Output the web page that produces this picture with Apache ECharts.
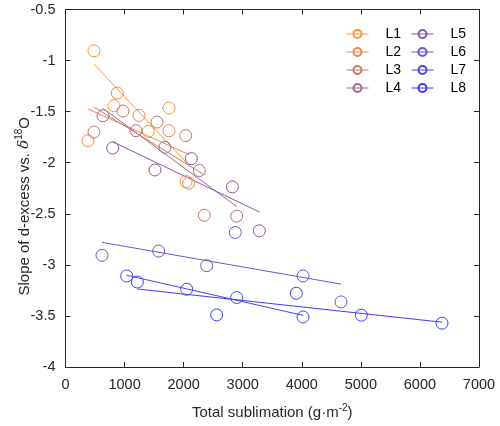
<!DOCTYPE html>
<html>
<head>
<meta charset="utf-8">
<script src="https://cdn.jsdelivr.net/npm/echarts@6/dist/echarts.min.js"></script>
<style>
html,body{margin:0;padding:0;background:#fff;}
#chart{width:500px;height:426px;}
</style>
</head>
<body>
<div id="chart"></div>
<script>
// ---- data ----
const names = ['L1','L2','L3','L4','L5','L6','L7','L8'];
const L1x = [482, 821, 1402, 1752, 2040];
const L1y = [-0.905, -1.442, -1.693, -1.465, -2.185];
const L2x = [381, 877, 1244, 1752, 2085];
const L2y = [-1.784, -1.318, -1.537, -1.687, -2.201];
const L3x = [482, 973, 1549, 2035, 2350];
const L3y = [-1.700, -1.494, -1.602, -1.735, -2.514];
const L4x = [635, 1193, 1684, 2265, 2898];
const L4y = [-1.540, -1.687, -1.849, -2.077, -2.523];
const L5x = [799, 1515, 2130, 2824, 3281];
const L5y = [-1.856, -2.071, -1.960, -2.237, -2.666];
const L6x = [618, 1577, 2390, 2875, 4021, 4664];
const L6y = [-2.907, -2.865, -3.008, -2.683, -3.109, -3.363];
const L7x = [1036, 2051, 2898, 4021];
const L7y = [-3.109, -3.239, -3.320, -3.510];
const L8x = [1216, 2559, 3907, 5008, 6374];
const L8y = [-3.168, -3.490, -3.278, -3.493, -3.571];
const xTicks = [0, 1000, 2000, 3000, 4000, 5000, 6000, 7000];
const yTicks = [-4, -3.5, -3, -2.5, -2, -1.5, -1, -0.5];

const colors = ['#FF9633','#EE8650','#C97868','#A86A8C','#8757AE','#6A55D6','#4A45EC','#3B3BFF'];
const xs = [L1x,L2x,L3x,L4x,L5x,L6x,L7x,L8x];
const ys = [L1y,L2y,L3y,L4y,L5y,L6y,L7y,L8y];

function fit(x, y){
  const n = x.length;
  const mx = x.reduce((a,b)=>a+b,0)/n, my = y.reduce((a,b)=>a+b,0)/n;
  let sxy=0, sxx=0;
  for(let i=0;i<n;i++){ sxy += (x[i]-mx)*(y[i]-my); sxx += (x[i]-mx)*(x[i]-mx); }
  const b = sxy/sxx, a = my - b*mx;
  const x0 = Math.min(...x), x1 = Math.max(...x);
  return [[x0, a+b*x0],[x1, a+b*x1]];
}

const FONT = 'Liberation Sans, Arial, sans-serif';
const TXT = '#262626';
const series = [];
names.forEach((nm,i)=>{
  series.push({
    name: nm, type: 'line', color: colors[i],
    data: xs[i].map((v,k)=>[v, ys[i][k]]),
    symbol: 'circle', symbolSize: 12,
    itemStyle: {color: 'rgba(255,255,255,0)', borderColor: colors[i], borderWidth: 1},
    lineStyle: {color: colors[i], width: 0, opacity: 0},
    silent: true, z: 3
  });
});
names.forEach((nm,i)=>{
  series.push({
    name: 'fit_'+nm, type: 'line', color: colors[i],
    data: fit(xs[i], ys[i]),
    symbol: 'none', lineStyle: {color: colors[i], width: 1},
    silent: true, z: 2
  });
});

const legendCommon = {
  orient: 'vertical', itemWidth: 22, itemHeight: 10, itemGap: 4,
  textStyle: {fontFamily: FONT, fontSize: 14, color: '#000', padding: [0,0,0,12]},
  lineStyle: {width: 1, opacity: 1},
  selectedMode: false
};

const axisCommon = {
  axisLine: {show: true, onZero: false, lineStyle: {color: TXT, width: 1}},
  axisTick: {show: true, inside: true, length: 5, lineStyle: {color: TXT}},
  splitLine: {show: false}
};

const chart = echarts.init(document.getElementById('chart'), null, {renderer: 'canvas'});
chart.setOption({
  animation: false,
  backgroundColor: '#fff',
  grid: {left: 65.5, right: 21, top: 9.5, bottom: 59, containLabel: false, outerBoundsMode: 'none'},
  legend: [
    Object.assign({}, legendCommon, {left: 341, top: 22, data: names.slice(0,4)}),
    Object.assign({}, legendCommon, {left: 406, top: 22, data: names.slice(4)})
  ],
  xAxis: [
    Object.assign({}, axisCommon, {
      type: 'value', position: 'bottom', min: xTicks[0], max: xTicks[xTicks.length-1], interval: 1000,
      axisLabel: {fontFamily: FONT, fontSize: 14.5, color: TXT, margin: 10, formatter: v => String(v)},
      name: '{n|Total sublimation (g·m}{s|-2}{n|)}', nameLocation: 'middle', nameGap: 36, nameMoveOverlap: false,
      nameTextStyle: {rich: {
        n: {fontFamily: FONT, fontSize: 15, color: TXT, lineHeight: 20},
        s: {fontFamily: FONT, fontSize: 10, color: TXT, lineHeight: 10, verticalAlign: 'top'}
      }}
    }),
    Object.assign({}, axisCommon, {
      type: 'value', position: 'top', min: xTicks[0], max: xTicks[xTicks.length-1], interval: 1000,
      axisLabel: {show: false}
    })
  ],
  yAxis: [
    Object.assign({}, axisCommon, {
      type: 'value', position: 'left', min: yTicks[0], max: yTicks[yTicks.length-1], interval: 0.5,
      axisLabel: {fontFamily: FONT, fontSize: 14.5, color: TXT, margin: 10},
      name: '{n|Slope of d-excess vs. }{d|δ}{s|18}{n|O}', nameLocation: 'middle', nameGap: 31, nameMoveOverlap: false,
      nameTextStyle: {padding: [0, 36, 0, 0], rich: {
        n: {fontFamily: FONT, fontSize: 15, color: TXT, lineHeight: 20},
        d: {fontFamily: 'DejaVu Serif, serif', fontStyle: 'italic', fontSize: 15, color: TXT, lineHeight: 20},
        s: {fontFamily: FONT, fontSize: 10, color: TXT, lineHeight: 10, verticalAlign: 'top'}
      }}
    }),
    Object.assign({}, axisCommon, {
      type: 'value', position: 'right', min: yTicks[0], max: yTicks[yTicks.length-1], interval: 0.5,
      axisLabel: {show: false}
    })
  ],
  series: series
});
</script>
</body>
</html>
